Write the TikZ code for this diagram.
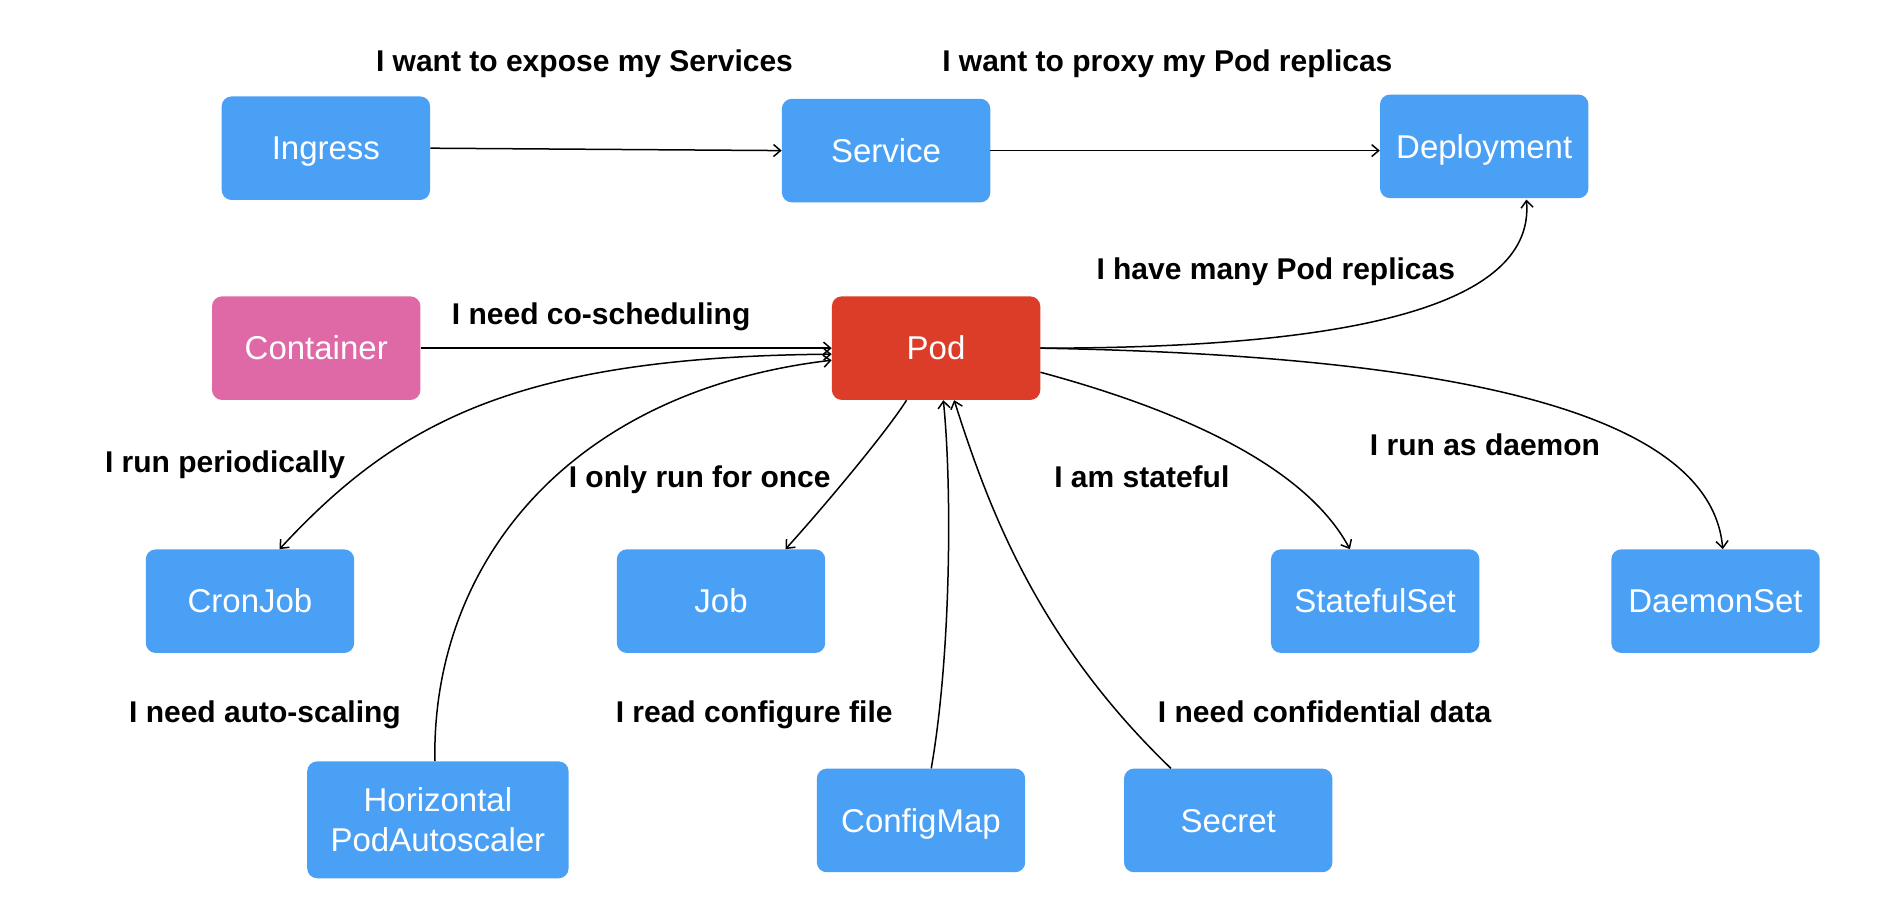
\documentclass[tikz,border=0pt]{standalone}
\usepackage{fontspec}
\setmainfont{Liberation Sans}
\usetikzlibrary{arrows.meta}
\definecolor{kblue}{RGB}{74,160,245}
\definecolor{kred}{RGB}{219,61,40}
\definecolor{kpink}{RGB}{223,105,166}
\begin{document}
\begin{tikzpicture}[x=1.2047pt,y=-1.2047pt,
  boxbase/.style={rounded corners=10pt, minimum width=208.4pt, minimum height=103.6pt,
    text=white, font=\fontsize{33}{40}\selectfont, inner sep=0pt},
  box/.style={boxbase, text height=23.6pt, text depth=0pt},
  lbl/.style={anchor=base west, font=\fontsize{30}{36}\selectfont\bfseries, inner sep=0pt},
  tip/.tip={Straight Barb[length=7pt,width=12pt,line width=1.5pt]},
  conn/.style={line width=1.5pt, -tip},
  conntwo/.style={line width=1.5pt, tip-tip}]
\fill[white] (0,0) rectangle (1568,746);
\useasboundingbox (0,0) rectangle (1568,746);
% nodes
\node[box,fill=kblue] (ingress) at (270.5,123) {Ingress};
\node[box,fill=kblue] (service) at (735.5,125) {Service};
\node[box,fill=kblue] (deploy) at (1232,121.5) {Deployment};
\node[box,fill=kpink] (container) at (262.5,289) {Container};
\node[box,fill=kred] (pod) at (777,289) {Pod};
\node[box,fill=kblue] (cron) at (207.5,499) {CronJob};
\node[box,fill=kblue] (job) at (598.5,499) {Job};
\node[box,fill=kblue] (stateful) at (1141.5,499) {StatefulSet};
\node[box,fill=kblue] (daemon) at (1424,499) {DaemonSet};
\node[boxbase,fill=kblue,minimum width=261.4pt,minimum height=116.9pt,align=center] (hpa) at (363.5,680.5) {Horizontal\\PodAutoscaler};
\node[box,fill=kblue] (cm) at (764.5,681) {ConfigMap};
\node[box,fill=kblue] (secret) at (1019.5,681) {Secret};
% labels
\node[lbl] (l1) at (312,59) {I want to expose my Services};
\node[lbl] (l2) at (782,59) {I want to proxy my Pod replicas};
\node[lbl] (l3) at (910,232) {I have many Pod replicas};
\node[lbl] (l4) at (375,269) {I need co-scheduling};
\node[lbl] (l5) at (87,392) {I run periodically};
\node[lbl] (l6) at (472,405) {I only run for once};
\node[lbl] (l7) at (875,405) {I am stateful};
\node[lbl] (l8) at (1137,378) {I run as daemon};
\node[lbl] (l9) at (107,600) {I need auto-scaling};
\node[lbl] (l10) at (511,600) {I read configure file};
\node[lbl] (l11) at (961,600) {I need confidential data};
% connectors
\draw[conn] (ingress.east) -- (service.west);
\draw[conn] (service.east) -- (service.east -| deploy.west);
\draw[conn] (container.east) -- (pod.west);
\draw[conn] (pod.east) .. controls (1100,289) and (1275,260) .. ([shift={(35,1)}]deploy.south);
\draw[conn] (pod.east) .. controls (1200,295) and (1420,340) .. ([shift={(6,0)}]daemon.north);
\draw[conn] ([shift={(0,20)}]pod.east) .. controls (960,335) and (1080,380) .. ([shift={(-21,0)}]stateful.north);
\draw[conn] ([shift={(-24.5,0)}]pod.south) .. controls (735,360) and (680,425) .. ([shift={(53.5,0)}]job.north);
\draw[conntwo] ([shift={(0,5)}]pod.west) .. controls (430,296) and (330,350) .. ([shift={(24.5,0)}]cron.north);
\draw[conn] ([shift={(-2.5,0)}]hpa.north) .. controls (358,470) and (470,325) .. ([shift={(0,10)}]pod.west);
\draw[conn] ([shift={(8.5,0)}]cm.north) .. controls (790,540) and (790,400) .. ([shift={(6,0)}]pod.south);
\draw[conn] ([shift={(-47.5,0)}]secret.north) .. controls (860,530) and (820,420) .. ([shift={(15,0)}]pod.south);
\end{tikzpicture}
\end{document}
